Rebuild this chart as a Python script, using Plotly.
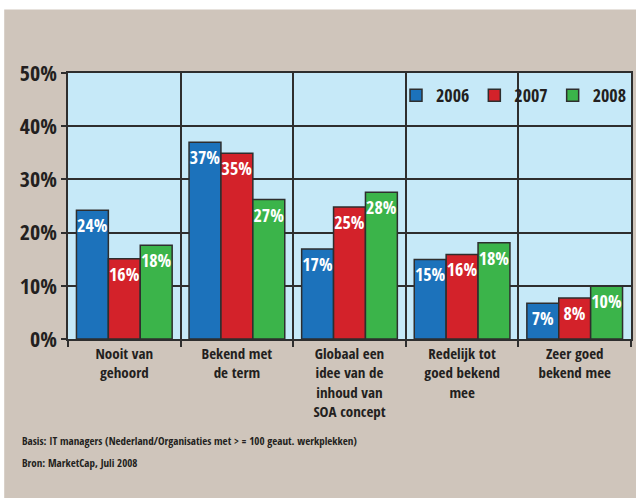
import plotly.graph_objects as go

categories = ["Nooit van<br>gehoord", "Bekend met<br>de term", "Globaal een<br>idee van de<br>inhoud van<br>SOA concept",
              "Redelijk tot<br>goed bekend<br>mee", "Zeer goed<br>bekend mee"]
years = ["2006", "2007", "2008"]
values_2006 = [24.2, 37.0, 16.9, 14.95, 6.7]
values_2007 = [15.1, 34.9, 24.8, 15.9, 7.7]
values_2008 = [17.6, 26.2, 27.6, 18.1, 9.9]
labels_2006 = ["24%", "37%", "17%", "15%", "7%"]
labels_2007 = ["16%", "35%", "25%", "16%", "8%"]
labels_2008 = ["18%", "27%", "28%", "18%", "10%"]
y_ticks = [0, 10, 20, 30, 40, 50]
y_ticktext = ["0%", "10%", "20%", "30%", "40%", "50%"]
footnotes = ["Basis: IT managers (Nederland/Organisaties met > = 100 geaut. werkplekken)",
             "Bron: MarketCap, Juli 2008"]

FONT = "Open Sans Condensed, Roboto Condensed, Liberation Sans, sans-serif"
BEIGE = "#cfc5bb"
PLOTBG = "#c6e9f8"
DARK = "#2e2e2e"
TXT = "#231f20"
colors = ["#1c72bb", "#d3222a", "#3bb44a"]

fig = go.Figure()
for yr, vals, labs, col in zip(years, [values_2006, values_2007, values_2008],
                               [labels_2006, labels_2007, labels_2008], colors):
    fig.add_trace(go.Bar(
        name=yr, x=categories, y=vals, text=labs,
        textposition="inside", insidetextanchor="end", textangle=0,
        constraintext="none",
        textfont=dict(family=FONT, size=18, color="white", weight="bold"),
        marker=dict(color=col, line=dict(color=DARK, width=1.5)),
    ))

fig.update_layout(
    width=636, height=498,
    margin=dict(l=68, r=3, t=73, b=159),
    paper_bgcolor=BEIGE, plot_bgcolor=PLOTBG,
    barmode="group", bargap=0.15, bargroupgap=0,
    font=dict(family=FONT, color=TXT, weight="bold"),
    showlegend=True,
    legend=dict(orientation="h", x=1.0, xanchor="right", y=0.985, yanchor="top",
                bgcolor="rgba(0,0,0,0)", font=dict(size=18, family=FONT, weight="bold", color=TXT),
                traceorder="normal", itemwidth=30),
)
fig.update_yaxes(range=[0, 50], tickvals=y_ticks, ticktext=y_ticktext,
                 showgrid=True, gridcolor=DARK, gridwidth=1.5,
                 showline=True, linecolor=DARK, linewidth=1.5, mirror=True,
                 ticks="outside", ticklen=5, tickcolor=DARK, tickwidth=1.5,
                 tickfont=dict(size=22, family=FONT, weight="bold", color=TXT),
                 zeroline=False)
fig.update_xaxes(showgrid=True, gridcolor=DARK, gridwidth=1.5, tickson="boundaries",
                 showline=True, linecolor=DARK, linewidth=1.5, mirror=True,
                 ticks="outside", ticklen=6, tickcolor=DARK, tickwidth=1.5,
                 tickfont=dict(size=15, family=FONT, weight="bold", color=TXT))

# white strips along top and left edges of the page
fig.add_shape(type="rect", xref="paper", yref="paper", x0=-0.2, x1=1.2, y0=1.2383, y1=1.4,
              fillcolor="white", line_width=0, layer="below")
fig.add_shape(type="rect", xref="paper", yref="paper", x0=-0.2, x1=-0.1133, y0=-0.7, y1=1.4,
              fillcolor="white", line_width=0, layer="below")

for i, txt in enumerate(footnotes):
    fig.add_annotation(text=txt, xref="paper", yref="paper", x=-0.085, y=-0.38 - i * 0.083,
                       xanchor="left", yanchor="middle", showarrow=False,
                       font=dict(size=11, family=FONT, weight="bold", color=TXT))

fig.write_html("out.html")
